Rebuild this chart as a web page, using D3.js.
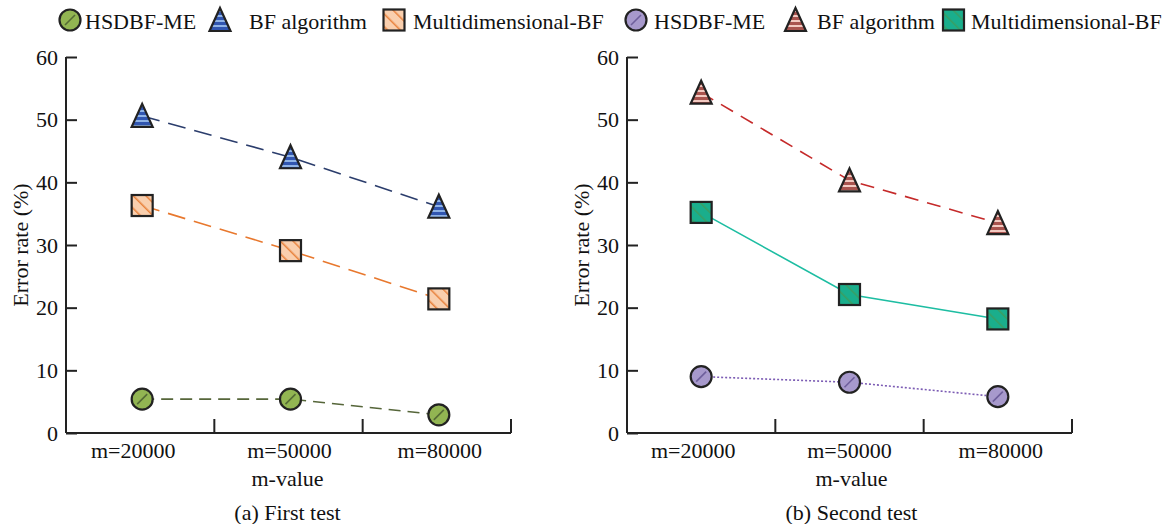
<!DOCTYPE html>
<html><head><meta charset="utf-8">
<script src="https://cdn.jsdelivr.net/npm/d3@7"></script>
<style>body{margin:0;background:#fff}svg{display:block}
svg text{font-family:'Liberation Serif','DejaVu Serif','Times New Roman',Times,serif !important;fill:#111}</style>
</head><body><svg id="c" width="1166" height="524"></svg>
<script>
const categories = ["m=20000","m=50000","m=80000"];
const yTicks = [0,10,20,30,40,50,60];
const seriesNames = ["HSDBF-ME","BF algorithm","Multidimensional-BF"];
// (a) First test
const a_HSDBF = [5.4, 5.4, 2.9];
const a_BF = [50.6, 44.0, 36.1];
const a_Multi = [36.3, 29.1, 21.4];
// (b) Second test
const b_HSDBF = [9.0, 8.1, 5.8];
const b_BF = [54.3, 40.3, 33.5];
const b_Multi = [35.2, 22.1, 18.2];

const FONT = "'Liberation Serif','DejaVu Serif','Times New Roman',Times,serif";
const svg = d3.select("#c");
const defs = svg.append("defs");
function stripesH(id, base, stripe){
  const p = defs.append("pattern").attr("id",id).attr("patternUnits","userSpaceOnUse").attr("width",6).attr("height",5);
  p.append("rect").attr("width",6).attr("height",5).attr("fill",base);
  p.append("rect").attr("y",0).attr("width",6).attr("height",2).attr("fill",stripe);
}
function diag(id, base, line){
  const p = defs.append("pattern").attr("id",id).attr("patternUnits","userSpaceOnUse").attr("width",9).attr("height",9)
    .attr("patternTransform","rotate(-45)");
  p.append("rect").attr("width",9).attr("height",9).attr("fill",base);
  p.append("rect").attr("x",0).attr("width",1.5).attr("height",9).attr("fill",line);
}
stripesH("triBlue","#3156b0","#8fb3e6");
stripesH("triRed","#a9544f","#f2c9c1");
diag("sqPeach","#f9cfae","#e8823c");
diag("sqTeal","#1aae8c","#3a9e62");

const y = d3.scaleLinear().domain([0,60]).range([433,57]);

function marker(g, type, fill, cx, cy){
  if(type==="circle"){
    g.append("circle").attr("cx",cx).attr("cy",cy).attr("r",10.5).attr("fill",fill).attr("stroke","#222").attr("stroke-width",2.2);
    g.append("line").attr("x1",cx-5).attr("y1",cy+5).attr("x2",cx+5).attr("y2",cy-5).attr("stroke",fill==="#92b552"?"#556b35":"#6e5f9c").attr("stroke-width",1.6);
  } else if(type==="triangle"){
    const h=22, w=21;
    g.append("path").attr("d",`M${cx},${cy-h/2-1}L${cx+w/2},${cy+h/2}L${cx-w/2},${cy+h/2}Z`).attr("fill",fill).attr("stroke","#222").attr("stroke-width",2.2).attr("stroke-linejoin","miter");
  } else {
    g.append("rect").attr("x",cx-10.5).attr("y",cy-10.5).attr("width",21).attr("height",21).attr("fill",fill).attr("stroke","#222").attr("stroke-width",2.2);
  }
}

function panel(opt){
  const g = svg.append("g");
  const x = d3.scaleBand().domain(categories).range([opt.x0, opt.x1]).padding(0);
  const cx = c => x(c) + x.bandwidth()/2 + opt.dx;
  const ya = d3.axisLeft(y).tickValues(yTicks).tickSize(-11).tickPadding(8).tickFormat(d3.format("d"));
  const yg = g.append("g").attr("transform",`translate(${opt.x0},0)`).call(ya).attr("font-family",FONT).attr("font-size",22);
  yg.select(".domain").attr("stroke","#222").attr("stroke-width",2).attr("d",`M0,${y(60)}V${y(0)}`);
  yg.selectAll(".tick line").attr("stroke","#222").attr("stroke-width",2);
  yg.selectAll(".tick text").attr("fill","#111");
  const xa = d3.axisBottom(x).tickSize(0).tickPadding(9);
  const xg = g.append("g").attr("transform",`translate(0,${y(0)})`).call(xa).attr("font-family",FONT).attr("font-size",22);
  xg.select(".domain").attr("stroke","#222").attr("stroke-width",2).attr("d",`M${opt.x0},0H${opt.x1}`);
  xg.selectAll(".tick text").attr("fill","#111").attr("x",(d,i)=>opt.labelDx[i]);
  g.selectAll(".xt").data(categories).join("line").attr("class","xt")
    .attr("x1",d=>x(d)+x.bandwidth()).attr("x2",d=>x(d)+x.bandwidth())
    .attr("y1",y(0)).attr("y2",y(0)-14).attr("stroke","#222").attr("stroke-width",2);
  g.append("text").attr("transform",`translate(${opt.x0-46},${(y(0)+y(60))/2}) rotate(-90)`).attr("text-anchor","middle").attr("dominant-baseline","central").attr("font-family",FONT).attr("font-size",22).text("Error rate (%)");
  g.append("text").attr("x",(opt.x0+opt.x1)/2+opt.tdx).attr("y",486).attr("text-anchor","middle").attr("font-family",FONT).attr("font-size",22).text("m-value");
  g.append("text").attr("x",(opt.x0+opt.x1)/2+opt.tdx).attr("y",520).attr("text-anchor","middle").attr("font-family",FONT).attr("font-size",22).text(opt.title);
  const line = d3.line().x((d,i)=>cx(categories[i])).y(d=>y(d));
  opt.series.forEach(s=>{
    g.append("path").datum(s.values).attr("d",line).attr("fill","none").attr("stroke",s.color).attr("stroke-width",s.width||1.6).attr("stroke-dasharray",s.dash||null);
  });
  opt.series.forEach(s=>{
    const mg = g.append("g");
    s.values.forEach((v,i)=>marker(mg, s.type, s.fill, cx(categories[i]), y(v)));
  });
  const lg = g.append("g");
  opt.series.forEach((s,i)=>{
    const L = opt.legend[i];
    marker(lg, s.type, s.fill, L[0], 20);
    lg.append("text").attr("x",L[1]).attr("y",21).attr("dominant-baseline","central").attr("font-family",FONT).attr("font-size",22).text(seriesNames[i]);
  });
}

panel({x0:66, x1:511, dx:2, tdx:-1, title:"(a) First test", labelDx:[-7,1,3],
  legend:[[70,85],[220,249],[394,413]],
  series:[
    {type:"circle", fill:"#92b552", values:a_HSDBF, color:"#56663a", dash:"12,7"},
    {type:"triangle", fill:"url(#triBlue)", values:a_BF, color:"#2b3d6c", dash:"18,9"},
    {type:"rect", fill:"url(#sqPeach)", values:a_Multi, color:"#e8782e", dash:"18,9"}
  ]});
panel({x0:627, x1:1072, dx:0, tdx:2, title:"(b) Second test", labelDx:[-8,0,3],
  legend:[[636,654],[795.5,817],[953.5,971]],
  series:[
    {type:"circle", fill:"#a799cc", values:b_HSDBF, color:"#7c5cb4", dash:"2,2"},
    {type:"triangle", fill:"url(#triRed)", values:b_BF, color:"#c52a2a", dash:"14,9"},
    {type:"rect", fill:"url(#sqTeal)", values:b_Multi, color:"#1dbda2", dash:null}
  ]});
</script></body></html>
